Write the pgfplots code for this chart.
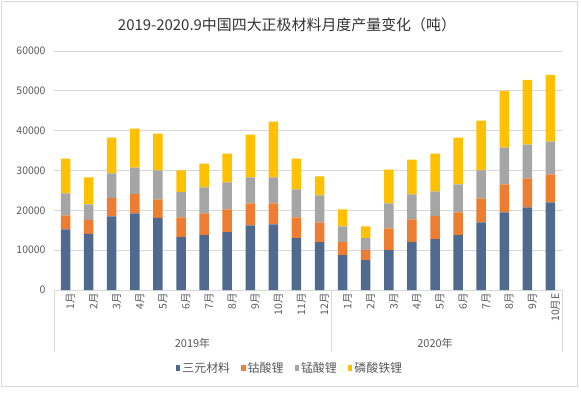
\documentclass[border=0pt]{standalone}
\usepackage{pgfplots}
\usepackage{pgfplotstable}
\pgfplotsset{compat=1.18}
\usepackage{fontspec}
\setmainfont{Noto Sans CJK SC}
\definecolor{cTern}{HTML}{50698F}
\definecolor{cCo}{HTML}{ED7D31}
\definecolor{cMn}{HTML}{A5A5A5}
\definecolor{cLfp}{HTML}{FFC000}
\definecolor{gridc}{HTML}{D9D9D9}
\definecolor{txt}{HTML}{595959}
\pgfplotstableread{
x tern co mn lfp
0 15250 3500 5500 8750
1 14080 3500 3920 6750
2 18500 4580 6170 9000
3 19250 4830 6670 9750
4 18080 4670 7250 9250
5 13250 5000 6330 5420
6 13750 5500 6500 6000
7 14500 5750 6750 7250
8 16250 5500 6500 10750
9 16500 5250 6500 14000
10 13000 5250 7000 7750
11 12000 5000 6750 4750
12 8750 3250 4000 4250
13 7500 2500 3000 3000
14 10000 5500 6250 8500
15 12000 5750 6250 8750
16 12750 5830 6170 9500
17 13750 5750 7000 11750
18 17000 6000 7000 12500
19 19500 7000 9250 14250
20 20750 7250 8500 16250
21 22000 7000 8250 16750
}\datatable
\begin{document}
\begin{tikzpicture}
\path[use as bounding box] (-54bp,-103bp) rectangle (527bp,290bp);
\draw[gridc, line width=0.8bp] (-53bp,-96bp) rectangle (523bp,289bp);
\node[font=\fontsize{15}{17}\selectfont, text=black!80] at (233bp,265bp) {2019-2020.9中国四大正极材料月度产量变化（吨）};
\begin{axis}[
  scale only axis, width=508bp, height=239bp,
  ybar stacked, bar width=9.5bp,
  xmin=-0.5, xmax=21.5, ymin=0, ymax=60000,
  ytick={0,10000,...,60000},
  scaled y ticks=false,
  xtick={0,...,21},
  xticklabels={1月,2月,3月,4月,5月,6月,7月,8月,9月,10月,11月,12月,1月,2月,3月,4月,5月,6月,7月,8月,9月,10月E},
  major tick length=0pt,
  axis line style={draw=none},
  ymajorgrids, grid style={gridc, line width=0.8bp},
  /pgf/number format/1000 sep={},
  /pgf/number format/assume math mode=true,
  yticklabel style={font=\fontsize{10.5}{12}\selectfont, text=txt, anchor=east, xshift=-5bp},
  xticklabel style={font=\fontsize{10.5}{12}\selectfont, text=txt, rotate=90, anchor=east, yshift=-5bp},
  clip=false,
  legend columns=4,
  legend style={at={(axis description cs:0.4646,-0.326)}, anchor=center, draw=none, fill=none,
    font=\fontsize{12}{14}\selectfont, text=txt,
    /tikz/every even column/.append style={column sep=9bp}},
  legend image code/.code={\fill[#1] (0bp,-3bp) rectangle (4.5bp,3bp);},
  every axis plot/.append style={draw=none},
]
\addplot[fill=cTern] table[x=x,y=tern]{\datatable};
\addplot[fill=cCo] table[x=x,y=co]{\datatable};
\addplot[fill=cMn] table[x=x,y=mn]{\datatable};
\addplot[fill=cLfp] table[x=x,y=lfp]{\datatable};
\legend{三元材料,钴酸锂,锰酸锂,磷酸铁锂}
\coordinate (L) at (axis cs:-0.5,0);
\coordinate (M) at (axis cs:11.5,0);
\coordinate (R) at (axis cs:21.5,0);
\coordinate (G1) at (axis cs:5.5,0);
\coordinate (G2) at (axis cs:16,0);
\end{axis}
\draw[gridc, line width=0.8bp] (L) -- ++(0bp,-62bp);
\draw[gridc, line width=0.8bp] (M) -- ++(0bp,-62bp);
\draw[gridc, line width=0.8bp] (R) -- ++(0bp,-62bp);
\node[font=\fontsize{11}{13}\selectfont, text=txt] at ([yshift=-53bp]G1) {2019年};
\node[font=\fontsize{11}{13}\selectfont, text=txt] at ([yshift=-53bp]G2) {2020年};
\end{tikzpicture}
\end{document}
